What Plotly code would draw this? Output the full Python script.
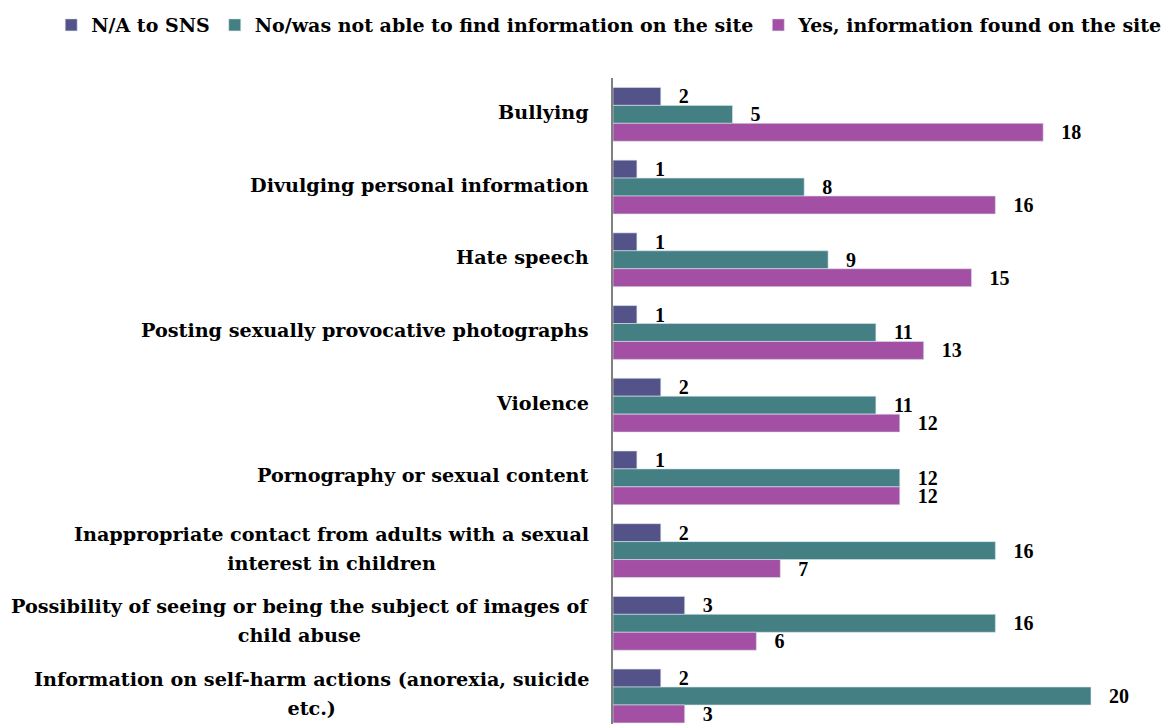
import plotly.graph_objects as go

categories = [
    "Bullying",
    "Divulging personal information",
    "Hate speech",
    "Posting sexually provocative photographs",
    "Violence",
    "Pornography or sexual content",
    "Inappropriate contact from adults with a sexual<br>interest in children",
    "Possibility of seeing or being the subject of images of<br>child abuse",
    "Information on self-harm actions (anorexia, suicide<br>etc.)",
]
na_vals = [2, 1, 1, 1, 2, 1, 2, 3, 2]
no_vals = [5, 8, 9, 11, 11, 12, 16, 16, 20]
yes_vals = [18, 16, 15, 13, 12, 12, 7, 6, 3]

series = [
    ("N/A to SNS", na_vals, "#545389"),
    ("No/was not able to find information on the site", no_vals, "#437F83"),
    ("Yes, information found on the site", yes_vals, "#A34FA3"),
]

LABEL_FONT = "DejaVu Serif"
NUM_FONT = "Liberation Serif"
fig = go.Figure()
for name, vals, color in series:
    fig.add_trace(go.Bar(
        y=categories, x=vals, name=name, orientation="h",
        marker=dict(color=color, line=dict(color="#d8e4ec", width=0.6)),
        text=vals, texttemplate="   %{x}", textposition="outside",
        constraintext="none",
        textfont=dict(family=NUM_FONT, size=20, color="black", weight="bold"),
        cliponaxis=False,
    ))

for c in categories:
    fig.add_annotation(
        x=0, xref="paper", y=c, yref="y", xanchor="right", xshift=-22,
        yshift=2, align="center", showarrow=False,
        text="<b><span style='font-size:19.2px'>" +
             c.replace("<br>", "</span></b><br><b><span style='font-size:19.2px'>") +
             "</span></b>",
        font=dict(family=LABEL_FONT, size=22.3, color="black"),
    )

fig.update_layout(
    width=1172, height=724,
    margin=dict(l=613, r=0, t=78, b=0, autoexpand=False),
    barmode="group", bargap=0.26, bargroupgap=0.0,
    plot_bgcolor="white", paper_bgcolor="white",
    font=dict(family=LABEL_FONT, size=19, color="black"),
    showlegend=True,
    legend=dict(orientation="h", x=-1.005, xref="paper", xanchor="left",
                y=1.082, yref="paper", yanchor="middle",
                font=dict(family=LABEL_FONT, size=19, color="black", weight="bold"),
                itemwidth=30, tracegroupgap=0),
    xaxis=dict(range=[0, 23.39], visible=False),
    yaxis=dict(categoryorder="array", categoryarray=categories,
               range=[8.385, -0.5], showticklabels=False, showgrid=False,
               showline=True, linecolor="#808080", linewidth=2, ticks=""),
)

fig.write_html("out.html", config={"displayModeBar": False},
               post_script="document.body.style.margin='0';")
